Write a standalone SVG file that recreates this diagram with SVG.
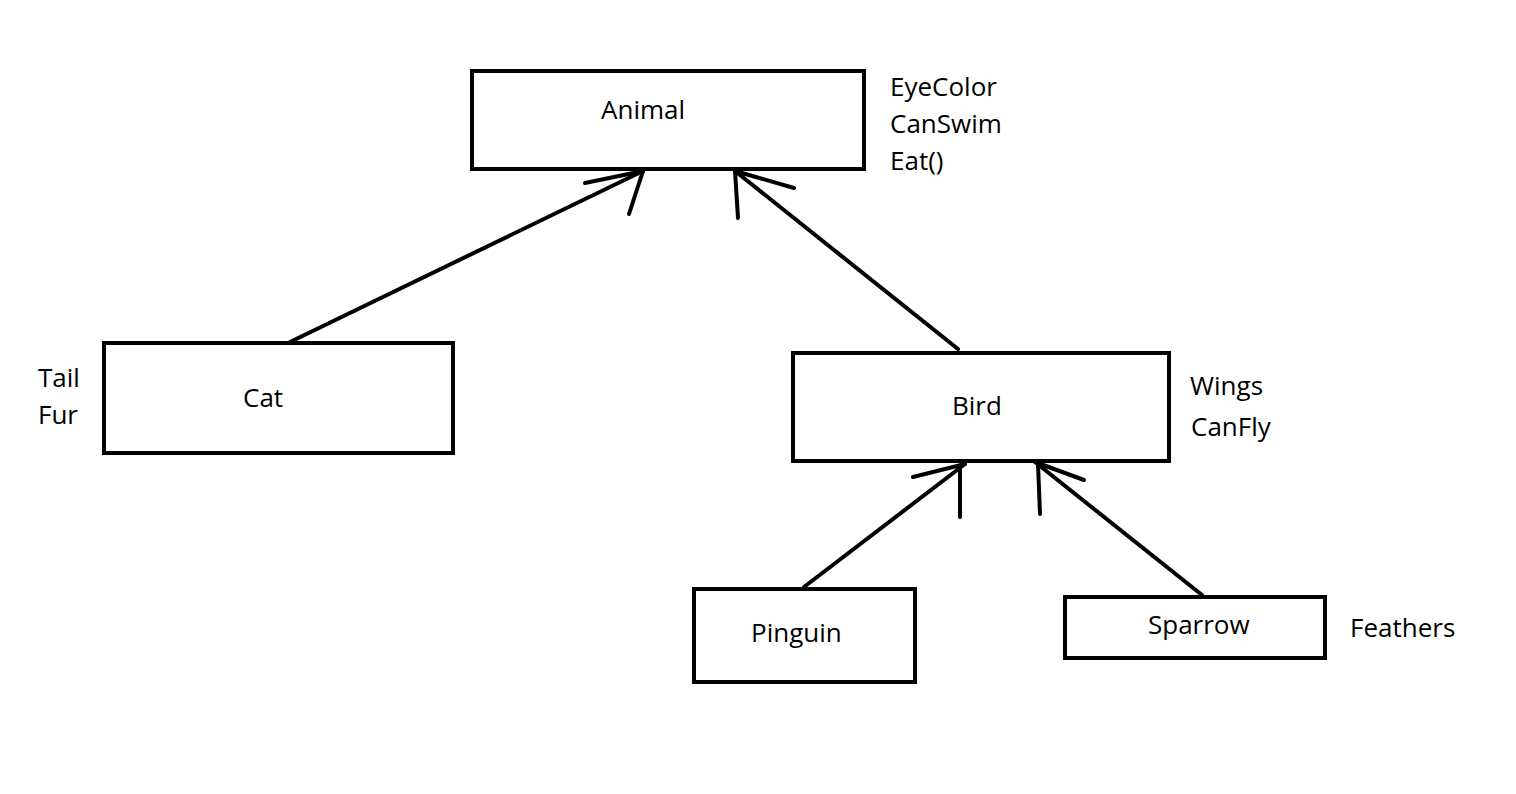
<svg xmlns="http://www.w3.org/2000/svg" width="1516" height="794" viewBox="0 0 1516 794">
<style>
.box{fill:#fff;stroke:#000;stroke-width:4}
.ln{stroke:#000;stroke-width:4;stroke-linecap:round;fill:none}
text{font-family:"Open Sans","Noto Sans",sans-serif;font-size:26px;fill:#000}
</style>
<rect width="1516" height="794" fill="#fff"/>
<g id="connectors">
<line class="ln" x1="290" y1="342" x2="643" y2="171"/>
<line class="ln" x1="585" y1="183" x2="643" y2="171"/>
<line class="ln" x1="629" y1="214" x2="643" y2="171"/>
<line class="ln" x1="958" y1="349" x2="735" y2="171"/>
<line class="ln" x1="794" y1="188" x2="735" y2="171"/>
<line class="ln" x1="738" y1="218" x2="735" y2="171"/>
<line class="ln" x1="804" y1="587" x2="965" y2="464"/>
<line class="ln" x1="913" y1="477" x2="965" y2="464"/>
<line class="ln" x1="960" y1="517" x2="960" y2="466"/>
<line class="ln" x1="1202" y1="595" x2="1035" y2="462"/>
<line class="ln" x1="1084" y1="480" x2="1035" y2="462"/>
<line class="ln" x1="1040" y1="514" x2="1038" y2="464"/>
</g>
<g id="animal">
<rect class="box" x="472" y="71" width="392" height="98"/>
<text x="601" y="119">Animal</text>
<text x="890" y="96">EyeColor</text>
<text x="890" y="133">CanSwim</text>
<text x="890" y="170">Eat()</text>
</g>
<g id="cat">
<rect class="box" x="104" y="343" width="349" height="110"/>
<text x="243" y="407">Cat</text>
<text x="38" y="387">Tail</text>
<text x="38" y="424">Fur</text>
</g>
<g id="bird">
<rect class="box" x="793" y="353" width="376" height="108"/>
<text x="952" y="415">Bird</text>
<text x="1190" y="395">Wings</text>
<text x="1191" y="436">CanFly</text>
</g>
<g id="pinguin">
<rect class="box" x="694" y="589" width="221" height="93"/>
<text x="751" y="642">Pinguin</text>
</g>
<g id="sparrow">
<rect class="box" x="1065" y="597" width="260" height="61"/>
<text x="1148" y="634">Sparrow</text>
<text x="1350" y="637">Feathers</text>
</g>
</svg>
